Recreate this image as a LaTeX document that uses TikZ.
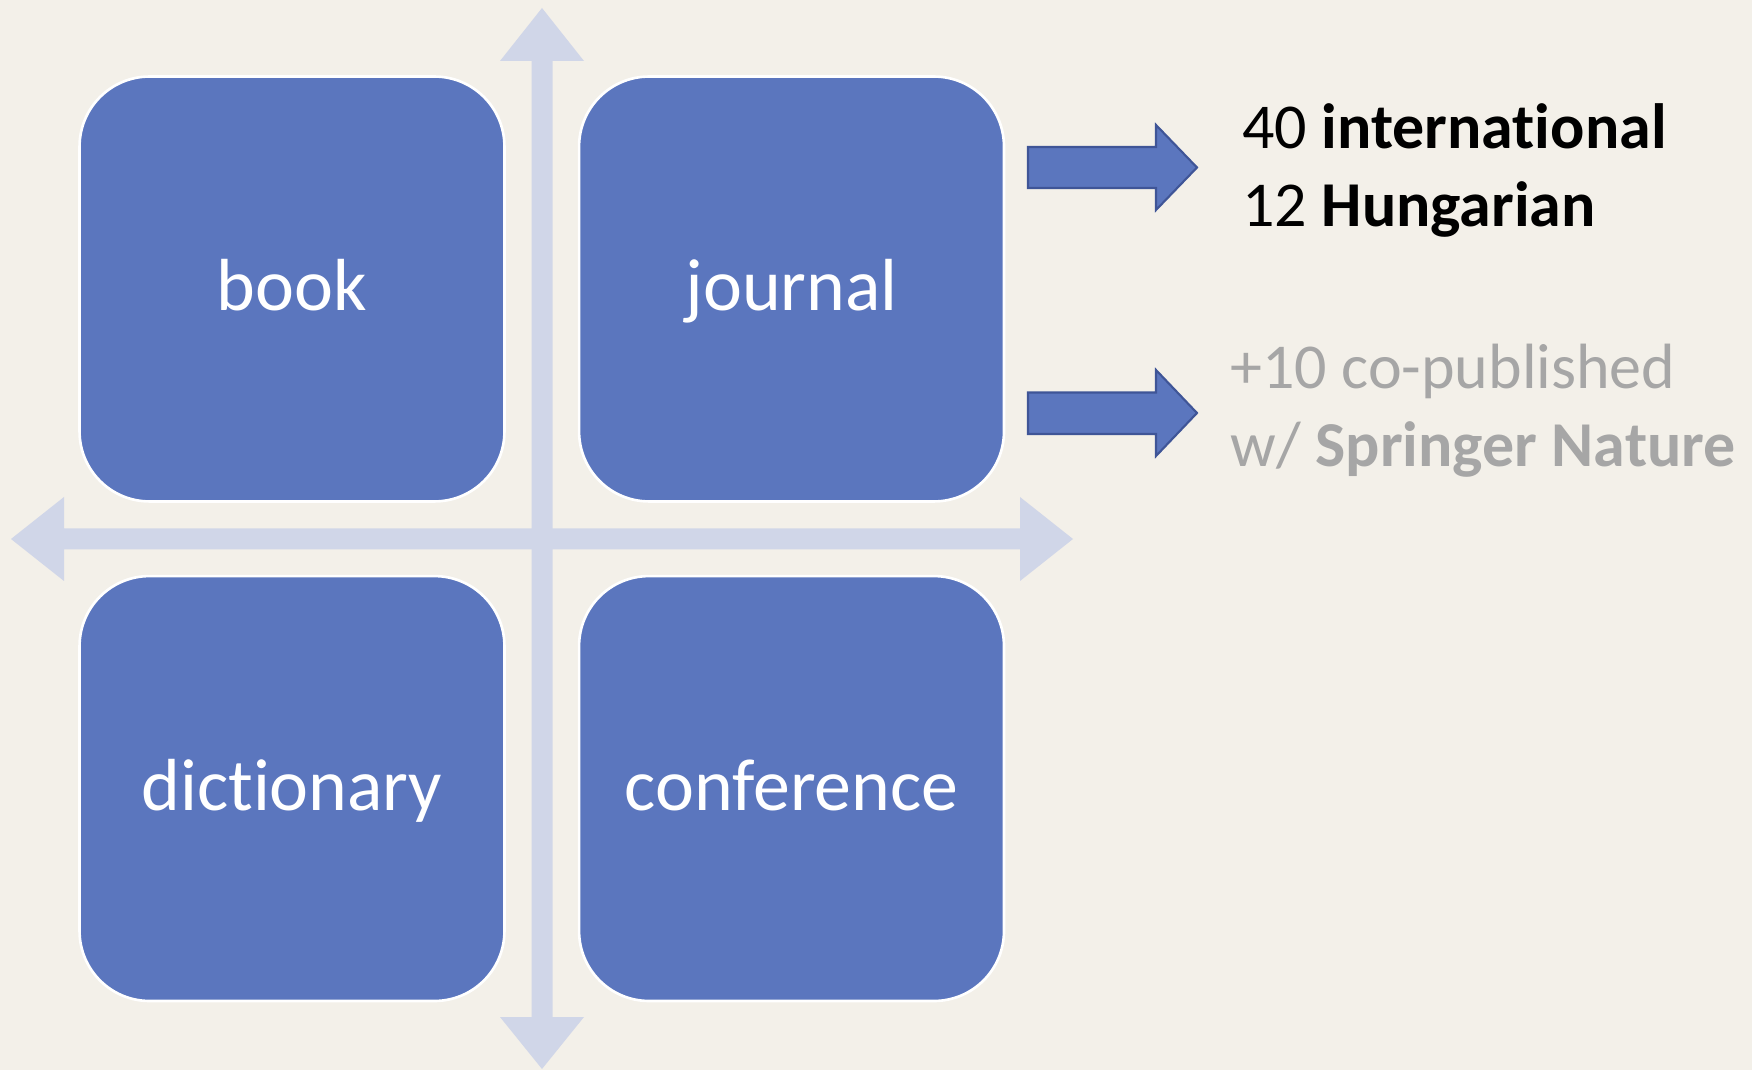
\documentclass[tikz,border=0pt]{standalone}
\usepackage{fontspec}
\setmainfont{Carlito}[Ligatures={NoCommon,NoDiscretionary}]
\usepackage{tikz}
\usetikzlibrary{positioning}
\definecolor{bgcream}{HTML}{F3F0E9}
\definecolor{quadblue}{HTML}{5B76BE}
\definecolor{axislilac}{HTML}{D0D6E8}
\definecolor{arrowedge}{HTML}{3F5597}
\definecolor{softgray}{HTML}{A6A6A6}
\tikzset{
  quad/.style={draw=white, line width=1.5pt, fill=quadblue, rounded corners=1.4cm,
    minimum width=8.5cm, minimum height=8.5cm, inner sep=0pt, text=white,
    font=\fontsize{42}{50}\selectfont, text height=25pt, text depth=0pt},
  axisbar/.style={fill=axislilac},
  blockarrow/.style={fill=quadblue, draw=arrowedge, line width=1.2pt, line join=miter},
  note/.style={anchor=base west, inner sep=0pt, font=\fontsize{36.4}{44}\selectfont}
}

\begin{document}
\begin{tikzpicture}[x=0.02cm, y=-0.02cm, node distance=1.44cm]
\fill[bgcream] (0,0) rectangle (1752,1070);

% axes
\fill[axislilac] (542,8) -- (584,61) -- (552.5,61) -- (552.5,1017) -- (584,1017) -- (542,1069)
  -- (500,1017) -- (531.5,1017) -- (531.5,61) -- (500,61) -- cycle;
\fill[axislilac] (11,539) -- (64,497) -- (64,528.5) -- (1020,528.5) -- (1020,497) -- (1073,539)
  -- (1020,581) -- (1020,549.5) -- (64,549.5) -- (64,581) -- cycle;

% the four kinds
\node[quad] (book) at (292,289) {book};
\node[quad, right=of book] (journal) {journal};
\node[quad, below=of book] (dictionary) {dictionary};
\node[quad, right=of dictionary] (conference) {conference};

% block arrows
\draw[blockarrow] (1028,147) -- (1156,147) -- (1156,125) -- (1197,167.5) -- (1156,210) -- (1156,188) -- (1028,188) -- cycle;
\draw[blockarrow] (1028,392.5) -- (1156,392.5) -- (1156,370) -- (1197,413) -- (1156,456) -- (1156,434) -- (1028,434) -- cycle;

\node[note] (intl) at (1242,149) {40 \textbf{international}};
\node[note] (hung) at (1242,227) {12 \textbf{Hungarian}};
\node[note, text=softgray] (copub) at (1230,389) {+10 co-published};
\node[note, text=softgray] (springer) at (1230,467) {w/ \textbf{Springer Nature}};
\end{tikzpicture}
\end{document}
